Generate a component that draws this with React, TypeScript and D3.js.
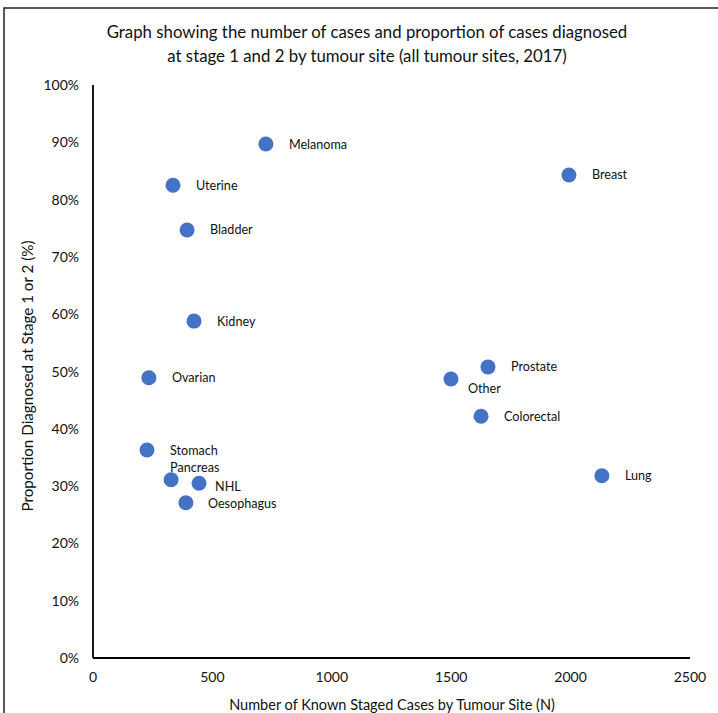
import React from "react";
import * as d3 from "d3";

const sites = ["Melanoma","Uterine","Bladder","Kidney","Ovarian","Stomach","Pancreas","NHL","Oesophagus","Breast","Prostate","Other","Colorectal","Lung"];
const stagedCases = [724, 335, 394, 423, 234, 226, 327, 444, 389, 1993, 1654, 1499, 1625, 2131];
const proportionEarly = [0.897, 0.825, 0.747, 0.588, 0.489, 0.363, 0.311, 0.305, 0.271, 0.843, 0.508, 0.487, 0.422, 0.318];
const xTicks = [0, 500, 1000, 1500, 2000, 2500];
const yTicks = [0, 0.1, 0.2, 0.3, 0.4, 0.5, 0.6, 0.7, 0.8, 0.9, 1.0];

// label placement offsets (style only)
const labelOffsets: Record<string, [number, number]> = {
  Other: [17, 10],
  Pancreas: [-1, -12],
  NHL: [16, 3],
  Oesophagus: [22, 1],
};

const W = 718, H = 713;
const FONT = "Lato, 'Open Sans', sans-serif";

export default function App() {
  const x = d3.scaleLinear().domain([0, 2500]).range([93, 690]);
  const y = d3.scaleLinear().domain([0, 1]).range([658, 85]);
  const fmt = d3.format(".0%");
  return (
    <svg width={W} height={H} style={{ position: "absolute", left: 0, top: 0, background: "#fff" }} fontFamily={FONT}>
      <rect x={0} y={0} width={W} height={H} fill="#fff" />
      <rect x={4} y={8} width={740} height={740} fill="none" stroke="#222" strokeWidth={1.5} />
      <text x={367} y={38} textAnchor="middle" fontSize={16.8} fill="#111">Graph showing the number of cases and proportion of cases diagnosed</text>
      <text x={367} y={62} textAnchor="middle" fontSize={16.8} fill="#111">at stage 1 and 2 by tumour site (all tumour sites, 2017)</text>
      {yTicks.map((t) => (
        <text key={t} x={79} y={y(t) + 5} textAnchor="end" fontSize={14} fill="#111">{fmt(t)}</text>
      ))}
      {xTicks.map((t) => (
        <text key={t} x={x(t)} y={682} textAnchor="middle" fontSize={14} fill="#111">{t}</text>
      ))}
      <line x1={x(0)} x2={x(2500)} y1={y(0)} y2={y(0)} stroke="#000" strokeWidth={1.8} />
      <line x1={x(0)} x2={x(0)} y1={y(0)} y2={y(1)} stroke="#000" strokeWidth={1.8} />
      <text x={392} y={710} textAnchor="middle" fontSize={14.5} fill="#111">Number of Known Staged Cases by Tumour Site (N)</text>
      <text transform={`translate(33,376) rotate(-90)`} textAnchor="middle" fontSize={15.2} fill="#111">Proportion Diagnosed at Stage 1 or 2 (%)</text>
      {sites.map((s, i) => {
        const cx = x(stagedCases[i]);
        const cy = y(proportionEarly[i]);
        const [dx, dy] = labelOffsets[s] ?? [23, 0];
        return (
          <g key={s}>
            <circle cx={cx} cy={cy} r={7.5} fill="#4472C4" />
            <text x={cx + dx} y={cy + dy + 4.5} fontSize={12.6} fill="#111">{s}</text>
          </g>
        );
      })}
    </svg>
  );
}
